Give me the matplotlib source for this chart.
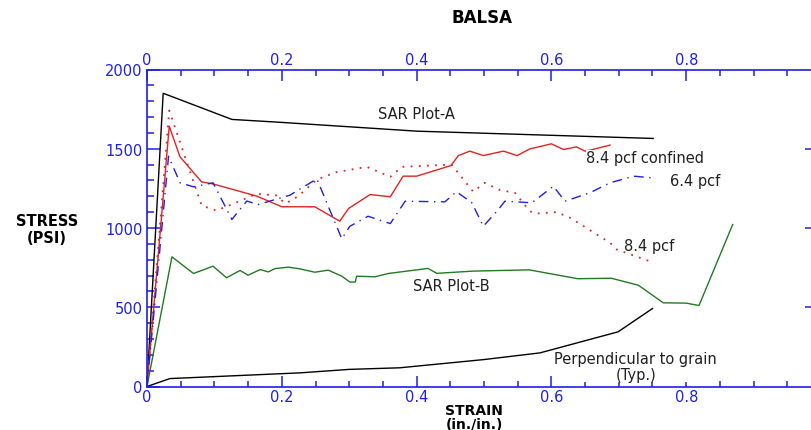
import numpy as np
import matplotlib
matplotlib.use("Agg")
import matplotlib.pyplot as plt
from matplotlib.ticker import MultipleLocator, FixedLocator

# --- data (strain in./in., stress psi) ---
sar_a_x = [0.0, 0.024, 0.126, 0.197, 0.40, 0.751]
sar_a_y = [0, 1850, 1685, 1667, 1611, 1565]

perp_x = [0.0, 0.034, 0.227, 0.30, 0.375, 0.50, 0.583, 0.699, 0.750]
perp_y = [0, 50, 86, 108, 118, 170, 212, 345, 492]

sar_b_x = [0.0, 0.037, 0.069, 0.098, 0.118, 0.138, 0.150, 0.168, 0.180, 0.190,
           0.210, 0.227, 0.249, 0.269, 0.289, 0.301, 0.309, 0.311, 0.338, 0.358,
           0.417, 0.430, 0.484, 0.567, 0.639, 0.689, 0.729, 0.766, 0.800, 0.819,
           0.869]
sar_b_y = [0, 818, 713, 759, 686, 732, 702, 738, 723, 744,
           753, 742, 721, 734, 696, 659, 659, 696, 692, 713,
           745, 714, 728, 736, 680, 683, 639, 528, 526, 511,
           1022]

conf_x = [0.0, 0.033, 0.049, 0.081, 0.098, 0.163, 0.200, 0.249, 0.286, 0.299,
          0.331, 0.361, 0.380, 0.400, 0.451, 0.462, 0.479, 0.499, 0.529, 0.549,
          0.568, 0.600, 0.618, 0.637, 0.650, 0.657, 0.687]
conf_y = [0, 1642, 1449, 1291, 1278, 1201, 1134, 1134, 1043, 1123,
          1211, 1197, 1327, 1327, 1394, 1457, 1485, 1457, 1485, 1457,
          1499, 1531, 1495, 1512, 1485, 1491, 1523]

p84_x = [0.0, 0.033, 0.051, 0.081, 0.103, 0.128, 0.163, 0.192, 0.205, 0.217,
         0.227, 0.252, 0.281, 0.326, 0.361, 0.378, 0.452, 0.484, 0.501, 0.524,
         0.546, 0.556, 0.568, 0.576, 0.608, 0.628, 0.687, 0.697, 0.746]
p84_y = [0, 1741, 1516, 1142, 1110, 1153, 1216, 1205, 1155, 1180,
         1211, 1306, 1352, 1386, 1323, 1386, 1400, 1229, 1285, 1239,
         1222, 1169, 1106, 1091, 1100, 1064, 907, 864, 790]

p64_x = [0.0, 0.032, 0.049, 0.069, 0.098, 0.126, 0.148, 0.165, 0.212, 0.252,
         0.289, 0.301, 0.328, 0.361, 0.383, 0.442, 0.459, 0.474, 0.482, 0.499,
         0.521, 0.531, 0.571, 0.603, 0.620, 0.657, 0.687, 0.722, 0.751]
p64_y = [0, 1453, 1285, 1260, 1285, 1054, 1170, 1148, 1207, 1310,
         932, 1011, 1074, 1028, 1169, 1165, 1229, 1184, 1159, 1011,
         1115, 1169, 1159, 1264, 1169, 1222, 1285, 1327, 1316]

BLUE = "#1f1fe6"
RED = "#e42222"
GREEN = "#227a22"

fig = plt.figure(figsize=(8.12, 4.31), dpi=100)
ax = fig.add_axes([147 / 812, 43.5 / 431, 668 / 812, 317 / 431])

ax.plot(sar_a_x, sar_a_y, color="black", lw=1.0)
ax.plot(perp_x, perp_y, color="black", lw=1.0)
ax.plot(sar_b_x, sar_b_y, color=GREEN, lw=1.0)
ax.plot(conf_x, conf_y, color=RED, lw=1.0)
ax.plot(p84_x, p84_y, color=RED, lw=1.3, linestyle=(0, (1, 3.5)))
ax.plot(p64_x, p64_y, color=BLUE, lw=1.0, linestyle=(0, (7, 4, 1, 4)))

ax.set_xlim(0, 668 / 674)
ax.set_ylim(0, 2000)

for s in ax.spines.values():
    s.set_color(BLUE)
    s.set_linewidth(1.2)

ax.xaxis.set_major_locator(MultipleLocator(0.2))
ax.xaxis.set_minor_locator(MultipleLocator(0.05))
ax.yaxis.set_major_locator(MultipleLocator(500))
ax.yaxis.set_minor_locator(MultipleLocator(100))
ax.xaxis.set_major_formatter(plt.FuncFormatter(lambda v, p: "0" if v == 0 else f"{v:.1f}"))

ax.tick_params(axis="x", which="both", direction="in", top=True, labeltop=True,
               colors=BLUE, labelsize=10.5, pad=2)
ax.tick_params(axis="x", which="major", length=8, width=1.1)
ax.tick_params(axis="x", which="minor", length=4, width=1.1)
ax.tick_params(axis="y", which="both", direction="in", left=True, right=False,
               colors=BLUE, labelsize=10.5, pad=3)
ax.tick_params(axis="y", which="major", length=9, width=1.1)
ax.tick_params(axis="y", which="minor", length=5, width=1.1)

# right side only carries the major ticks
sec = ax.secondary_yaxis("right")
sec.spines["right"].set_color(BLUE)
sec.yaxis.set_major_locator(FixedLocator([500, 1000, 1500]))
sec.tick_params(direction="in", length=7, width=1.1, colors=BLUE, labelright=False)

txt = dict(fontsize=10.5, color="#202020", family="DejaVu Sans")
ax.text(0.342, 1724, "SAR Plot-A", va="center", **txt)
ax.text(0.652, 1443, "8.4 pcf confined", va="center",
        bbox=dict(facecolor="white", edgecolor="none", pad=0.5), **txt)
ax.text(0.776, 1300, "6.4 pcf", va="center", **txt)
ax.text(0.708, 890, "8.4 pcf", va="center", **txt)
ax.text(0.395, 640, "SAR Plot-B", va="center", **txt)
ax.text(0.725, 128, "Perpendicular to grain\n(Typ.)", ha="center", va="center",
        linespacing=1.05, zorder=5,
        bbox=dict(facecolor="white", edgecolor="none", pad=0.5), **txt)

fig.text(482 / 812, 1 - 18 / 431, "BALSA", ha="center", va="center",
         fontsize=12, fontweight="bold")
fig.text(47 / 812, 1 - 230 / 431, "STRESS\n(PSI)", ha="center", va="center",
         fontsize=10.5, fontweight="bold", linespacing=1.1)
fig.text(474 / 812, 1 - 418 / 431, "STRAIN\n(in./in.)", ha="center", va="center",
         fontsize=10, fontweight="bold", linespacing=1.0)

fig.savefig("out.png", dpi=100)
